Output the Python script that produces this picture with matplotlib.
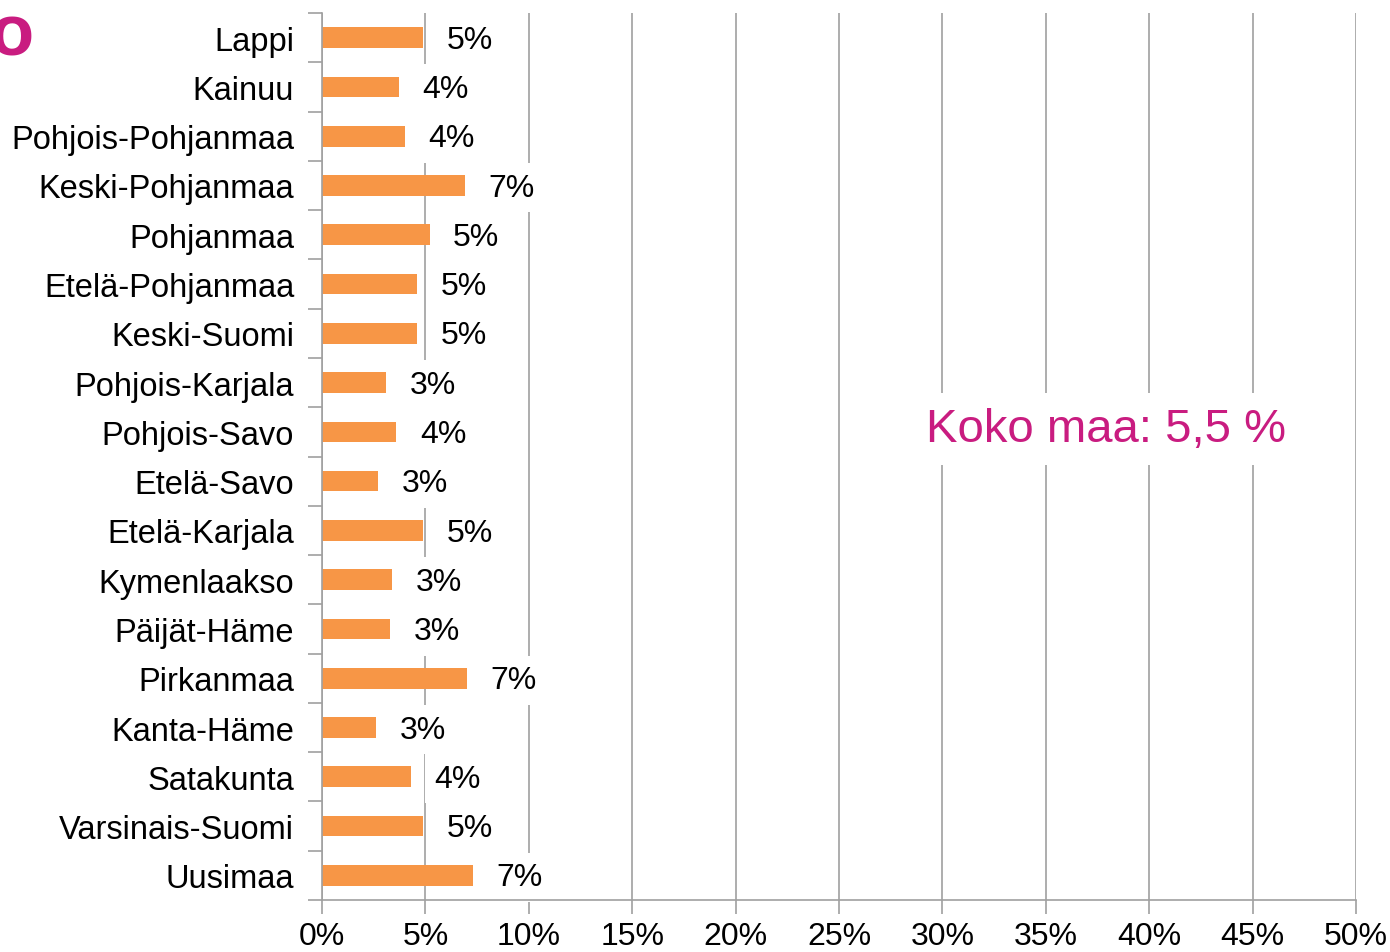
import matplotlib
matplotlib.use('Agg')
import matplotlib.pyplot as plt
import numpy as np

regions = ['Lappi', 'Kainuu', 'Pohjois-Pohjanmaa', 'Keski-Pohjanmaa', 'Pohjanmaa',
           'Etelä-Pohjanmaa', 'Keski-Suomi', 'Pohjois-Karjala', 'Pohjois-Savo',
           'Etelä-Savo', 'Etelä-Karjala', 'Kymenlaakso', 'Päijät-Häme', 'Pirkanmaa',
           'Kanta-Häme', 'Satakunta', 'Varsinais-Suomi', 'Uusimaa']
shares = [4.9, 3.7, 4.0, 6.9, 5.2,
          4.6, 4.6, 3.1, 3.6,
          2.7, 4.9, 3.4, 3.3, 7.0,
          2.6, 4.3, 4.9, 7.3]
value_labels = ['5%', '4%', '4%', '7%', '5%',
                '5%', '5%', '3%', '4%',
                '3%', '5%', '3%', '3%', '7%',
                '3%', '4%', '5%', '7%']
x_ticks = [0, 5, 10, 15, 20, 25, 30, 35, 40, 45, 50]
whole_country = 'Koko maa: 5,5 %'

plt.rcParams['font.family'] = ['Liberation Sans', 'DejaVu Sans']

orange = '#F79646'
pink = '#C91C80'
grey = '#A0A0A0'

fig = plt.figure(figsize=(13.9, 9.53), dpi=100)
ax = fig.add_axes([322 / 1390, 52 / 953, (1356 - 322) / 1390, (901 - 14) / 953])

y = np.arange(len(regions))
ax.barh(y, shares, height=0.42, color=orange, zorder=2)

ax.set_ylim(len(regions) - 0.5, -0.5)
ax.set_xlim(0, 50)

ax.set_yticks(y)
ax.set_yticklabels(regions, fontsize=23.5)
ax.set_yticks(np.arange(-0.5, len(regions), 1), minor=True)
ax.tick_params(axis='y', which='major', length=0, pad=20)
ax.tick_params(axis='y', which='minor', length=10, width=1.2, color=grey, direction='out')

ax.set_xticks(x_ticks)
ax.set_xticklabels([f'{t}%' for t in x_ticks], fontsize=23)
ax.tick_params(axis='x', length=10, width=1.2, color=grey, direction='out', pad=5)

ax.grid(axis='x', color=grey, linewidth=1.2, zorder=0)
ax.set_axisbelow(True)

for s in ['top', 'right']:
    ax.spines[s].set_visible(False)
for s in ['left', 'bottom']:
    ax.spines[s].set_color(grey)
    ax.spines[s].set_linewidth(1.2)

# labels sit under the spines so the white boxes only hide gridlines
for i, (v, lab) in enumerate(zip(shares, value_labels)):
    ax.annotate(lab, xy=(v, i), xytext=(17, -1.5), textcoords='offset points',
                va='center', ha='left', fontsize=23, zorder=2.2,
                bbox=dict(boxstyle='square,pad=0.3', fc='white', ec='none'))

ax.text(37.9, 7.94, whole_country, color=pink, fontsize=34, ha='center', va='center',
        zorder=2.2, bbox=dict(boxstyle='square,pad=0.3', fc='white', ec='none'))

fig.text(-0.008, 1 - 55 / 953, 'o', color=pink, fontsize=52, fontweight='bold',
         ha='left', va='baseline')

fig.savefig('out.png', dpi=100, facecolor='white')
